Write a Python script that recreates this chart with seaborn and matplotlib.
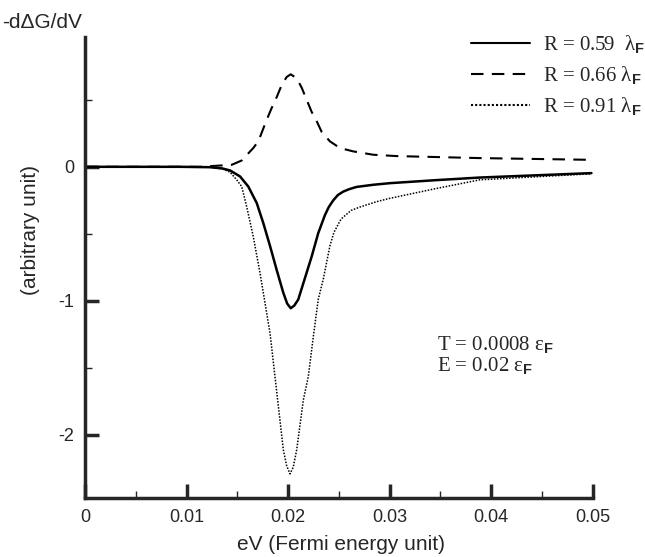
import matplotlib
matplotlib.use("Agg")
import matplotlib.pyplot as plt
from matplotlib.ticker import MultipleLocator
import pandas as pd
import seaborn as sns

# values
x_solid = [0.0, 0.0094, 0.0123, 0.0135, 0.01427, 0.01526, 0.01607, 0.0169, 0.01755, 0.01821,
           0.01887, 0.01952, 0.0199, 0.02025, 0.0206, 0.02099, 0.02165, 0.02231, 0.02296,
           0.02362, 0.024, 0.02444, 0.0249, 0.02542, 0.026, 0.02674, 0.02838, 0.03002,
           0.03445, 0.03888, 0.04987]
y_solid = [0.0, 0.0, -0.003, -0.012, -0.027, -0.072, -0.147, -0.27, -0.42, -0.59,
           -0.77, -0.94, -1.02, -1.055, -1.035, -0.99, -0.83, -0.67, -0.495,
           -0.36, -0.3, -0.25, -0.21, -0.185, -0.167, -0.15, -0.134, -0.122,
           -0.1, -0.08, -0.047]

x_dashed = [0.0, 0.0113, 0.01444, 0.01542, 0.01656, 0.01706, 0.01788, 0.01838, 0.01887,
            0.01936, 0.01985, 0.02025, 0.02084, 0.02133, 0.02182, 0.02231, 0.02281, 0.0233,
            0.02411, 0.0251, 0.02641, 0.02838, 0.03068, 0.03888, 0.04987]
y_dashed = [0.0, 0.0, 0.015, 0.047, 0.14, 0.19, 0.35, 0.44, 0.52,
            0.61, 0.67, 0.69, 0.66, 0.59, 0.5, 0.41, 0.34, 0.26,
            0.19, 0.14, 0.115, 0.09, 0.08, 0.065, 0.052]

x_dotted = [0.0, 0.0094, 0.0123, 0.0135, 0.01427, 0.01493, 0.01542, 0.01592, 0.01656, 0.01722,
            0.01788, 0.01821, 0.0187, 0.01919, 0.01952, 0.01985, 0.02018, 0.0205, 0.02084,
            0.02149, 0.02198, 0.02247, 0.02296, 0.02345, 0.02411, 0.0245, 0.0252, 0.0262,
            0.02707, 0.02871, 0.03002, 0.03445, 0.03888, 0.04987]
y_dotted = [0.0, 0.0, -0.003, -0.015, -0.04, -0.097, -0.147, -0.3, -0.52, -0.79,
            -1.09, -1.24, -1.565, -1.89, -2.11, -2.23, -2.29, -2.24, -2.11,
            -1.74, -1.565, -1.27, -0.99, -0.84, -0.59, -0.49, -0.39, -0.325,
            -0.3, -0.26, -0.235, -0.164, -0.097, -0.052]

labels = ["R = 0.59  \u03bb$_{\\mathbf{F}}$",
          "R = 0.66 \u03bb$_{\\mathbf{F}}$",
          "R = 0.91 \u03bb$_{\\mathbf{F}}$"]

frames = []
for lab, xs, ys in zip(labels, [x_solid, x_dashed, x_dotted], [y_solid, y_dashed, y_dotted]):
    frames.append(pd.DataFrame({"eV": xs, "val": ys, "curve": lab}))
df = pd.concat(frames, ignore_index=True)

sns.set_style("ticks")
plt.rcParams["font.family"] = ["Liberation Sans", "DejaVu Sans"]
plt.rcParams["mathtext.fontset"] = "custom"
plt.rcParams["mathtext.rm"] = "Liberation Serif"
plt.rcParams["mathtext.bf"] = "Liberation Sans:bold"
plt.rcParams["axes.unicode_minus"] = False

serif = ["Liberation Serif", "DejaVu Serif"]

fig = plt.figure(figsize=(6.45, 5.57), dpi=100)
ax = fig.add_axes([0.132, 0.106, 0.787, 0.828])

sns.lineplot(data=df, x="eV", y="val", hue="curve", style="curve",
             palette=["black"] * 3,
             dashes={labels[0]: "", labels[1]: (6, 4), labels[2]: (1, 1)},
             sort=False, estimator=None, ax=ax, linewidth=1.5)
for line, lw in zip(ax.lines, [1.8, 1.5, 1.1]):
    line.set_linewidth(lw)

ax.set_xlim(0, 0.05)
ax.set_ylim(-2.47, 0.97)
ax.xaxis.set_minor_locator(MultipleLocator(0.005))
ax.yaxis.set_minor_locator(MultipleLocator(0.5))
ax.set_xticks([0, 0.01, 0.02, 0.03, 0.04, 0.05])
ax.set_xticklabels(["0", "0.01", "0.02", "0.03", "0.04", "0.05"])
ax.set_yticks([-2, -1, 0])
ax.set_yticklabels(["-2", "-1", "0"])
ax.tick_params(which="major", direction="in", length=10, width=2.5, labelsize=13, pad=8)
ax.tick_params(which="minor", direction="in", length=5, width=1)
for s in ["top", "right"]:
    ax.spines[s].set_visible(False)
for s in ["left", "bottom"]:
    ax.spines[s].set_linewidth(2.5)
ax.set_xlabel("")
ax.set_ylabel("")

leg = ax.legend(loc="upper right", bbox_to_anchor=(1.0, 0.94), bbox_transform=fig.transFigure,
                frameon=False, fontsize=15, handlelength=2.85, handletextpad=0.6,
                labelspacing=0.4, borderaxespad=0, borderpad=0)
for t in leg.get_texts():
    t.set_family(serif)

ax.text(0.0347, -1.33, "T = 0.0008 \u03b5$_{\\mathbf{F}}$", fontsize=15, family=serif, va="center")
ax.text(0.0347, -1.49, "E = 0.02 \u03b5$_{\\mathbf{F}}$", fontsize=15, family=serif, va="center")

fig.text(0.003, 0.96, "-d\u0394G/dV", fontsize=15, ha="left", va="center")
fig.text(0.047, 0.587, "(arbitrary unit)", fontsize=15, rotation=90, ha="center", va="center")
fig.text(0.528, 0.023, "eV (Fermi energy unit)", fontsize=15, ha="center", va="center")

fig.savefig("out.png", dpi=100)
